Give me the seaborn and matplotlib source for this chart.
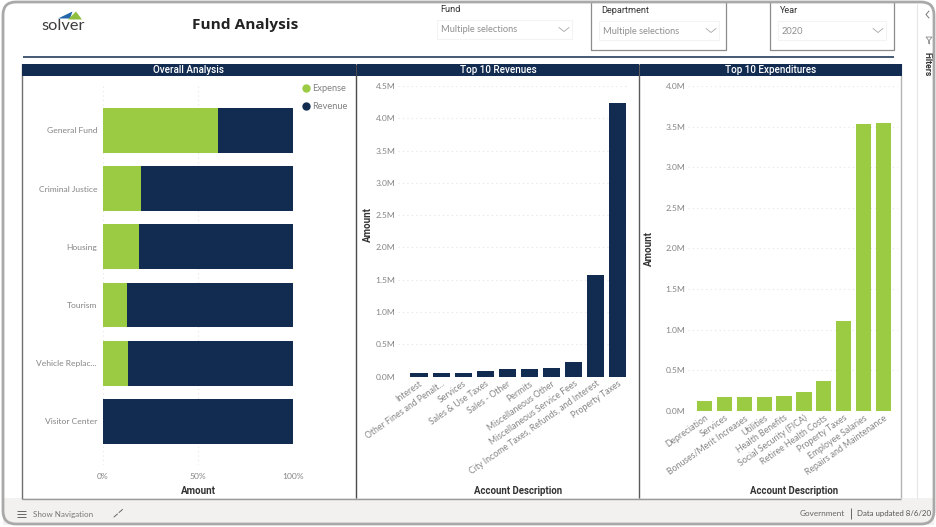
#!/usr/bin/python3

# libraries
import matplotlib
matplotlib.use('Agg')

import matplotlib.pyplot as plt
import seaborn as sns
from matplotlib.lines import Line2D
from matplotlib.patches import FancyBboxPatch, Polygon, Rectangle
from matplotlib.ticker import FuncFormatter

# ------------------------------------------------------------
#     Data
# ------------------------------------------------------------

funds = ["General Fund", "Criminal Justice", "Housing", "Tourism", "Vehicle Replac...", "Visitor Center"]
expense_pct = [60.5, 20, 19, 12.5, 13, 0]
revenue_pct = [39.5, 80, 81, 87.5, 87, 100]

revenue_names = [
    "Interest", "Other Fines and Penalt...", "Services", "Sales & Use Taxes", "Sales - Other",
    "Permits", "Miscellaneous Other", "Miscellaneous Service Fees",
    "City Income Taxes, Refunds, and Interest", "Property Taxes",
]
revenue_amounts = [50000, 50000, 55000, 90000, 110000, 120000, 135000, 220000, 1580000, 4230000]

expense_names = [
    "Depreciation", "Services", "Bonuses/Merit Increases", "Utilities", "Health Benefits",
    "Social Security (FICA)", "Retiree Health Costs", "Property Taxes", "Employee Salaries",
    "Repairs and Maintenance",
]
expense_amounts = [115000, 165000, 165000, 172000, 178000, 225000, 370000, 1100000, 3530000, 3540000]

pct_ticks = [0, 50, 100]
rev_ticks = [i * 500000 for i in range(10)]
exp_ticks = [i * 500000 for i in range(9)]

# ------------------------------------------------------------
#     Settings
# ------------------------------------------------------------

W, H = 937, 527
navy = "#122c51"
green = "#9bcb43"
tick_grey = "#858585"
label_dark = "#333333"
grid_col = "#e4e4e4"

sns.set_style("white")
plt.rcParams['font.family'] = ['Lato', 'DejaVu Sans']

fig = plt.figure(figsize=(W / 100, H / 100), dpi=100, facecolor="white")

# overlay in pixel coordinates for the report chrome
bg = fig.add_axes([0, 0, 1, 1], zorder=0)
bg.set_xlim(0, W)
bg.set_ylim(H, 0)
bg.axis("off")


def px_axes(x0, y0, x1, y1):
    ax = fig.add_axes([x0 / W, 1 - y1 / H, (x1 - x0) / W, (y1 - y0) / H], zorder=2)
    ax.patch.set_alpha(0)
    return ax


def rule(x0, y0, x1, y1, color="#8c8c8c", lw=1.0, z=3):
    bg.plot([x0, x1], [y0, y1], color=color, lw=lw, solid_capstyle="butt", zorder=z)


def chevron(x, y, w=5, h=4, color="#a5a5a5"):
    bg.plot([x - w, x, x + w], [y - h / 2, y + h / 2, y - h / 2], color=color, lw=0.6, zorder=3)


def slicer(label, value, lx, ly, x0, y0, x1, y1):
    bg.text(lx, ly, label, fontsize=6.6, color="#333333", va="center", family="Roboto")
    bg.add_patch(Rectangle((x0, y0), x1 - x0, y1 - y0, fc="white", ec="#f3f3f3", lw=0.7, zorder=2))
    bg.text(x0 + 4, (y0 + y1) / 2 + 0.5, value, fontsize=6.7, color="#8f8f8f", va="center", zorder=3)
    chevron(x1 - 8, (y0 + y1) / 2)


# ------------------------------------------------------------
#     Chrome
# ------------------------------------------------------------

# footer band and outer frame
bg.add_patch(Rectangle((3, 498), 931, 27, fc="#f2f1ef", ec="none", zorder=1))
bg.add_patch(FancyBboxPatch(
    (3, 2), W - 6, H - 5, boxstyle="round,pad=0,rounding_size=13",
    fc="none", ec="#a9a9a9", lw=2.0, zorder=5
))

# logo
bg.add_patch(Polygon([(58, 18.5), (72.5, 11.5), (70, 18.5)], fc="#2467a8", ec="none", zorder=3))
bg.add_patch(Polygon([(76, 11.5), (82, 19.5), (68, 19.5)], fc="#8fbe3f", ec="none", zorder=3))
bg.text(63, 26.5, "solver", fontsize=11.8, color="#3c3c3c", ha="center", va="center")

bg.text(245, 24.5, "Fund Analysis", fontsize=11.1, fontweight="bold", color="#222222",
        ha="center", va="center", family="Open Sans")
rule(23, 56.5, 894, 56.5, color=navy, lw=1.1)

# slicers
slicer("Fund", "Multiple selections", 440, 9.5, 437, 20, 572, 39)
slicer("Department", "Multiple selections", 601, 10.5, 599, 21, 719, 40)
slicer("Year", "2020", 780, 10.5, 778, 21, 886, 40)
for x0, x1 in [(591.5, 726.5), (770, 894)]:
    bg.plot([x0, x0, x1, x1], [2, 50, 50, 2], color="#8c8c8c", lw=0.9, zorder=3)

# filter strip
rule(917.5, 4, 917.5, 498, color="#e6e6e6", lw=0.8)
bg.plot([929, 926, 929], [11, 14.5, 18], color="#777777", lw=0.7, zorder=3)
bg.add_patch(Polygon([(926, 37), (932, 37), (929.6, 40), (929.6, 44), (928.4, 43), (928.4, 40)],
                     fc="white", ec="#888888", lw=0.6, zorder=3))
bg.text(927, 64.5, "Filters", fontsize=6.2, fontweight="semibold", rotation=-90, color="#333333",
        ha="center", va="center", family="Roboto")

# footer content
for y in [510.5, 513.5, 516.5]:
    rule(17, y, 26, y, color="#666666", lw=0.7)
bg.text(33, 514, "Show Navigation", fontsize=5.8, color="#777777", va="center")
bg.plot([114, 117.5], [517, 514], color="#666666", lw=0.7, zorder=3)
bg.plot([119, 122.5], [512.5, 509.5], color="#666666", lw=0.7, zorder=3)
bg.text(800, 513.5, "Government", fontsize=5.85, color="#666666", va="center")
rule(851, 508, 851, 519, color="#666666", lw=0.7)
bg.text(857, 513.5, "Data updated 8/6/20", fontsize=5.7, color="#555555", va="center")

# panels and their title bands
rule(22.5, 64, 22.5, 498.5, color="#6f6f6f", lw=1.0)
rule(22, 498.5, 901.5, 498.5, color="#9a9a9a", lw=1.0)
rule(356.5, 64, 356.5, 498, color="#4a4a4a", lw=1.0)
rule(639.5, 64, 639.5, 498, color="#5a5a5a", lw=1.0)
rule(901.5, 64, 901.5, 498, color="#b5b5b5", lw=1.0)
for x0, x1, title in [
    (22, 356, "Overall Analysis"),
    (357, 639, "Top 10 Revenues"),
    (640, 902, "Top 10 Expenditures"),
]:
    bg.add_patch(Rectangle((x0, 63.5), x1 - x0, 12, fc=navy, ec="none", zorder=3))
    bg.text((x0 + x1) / 2, 70, title, fontsize=7.1, fontweight="medium", color="white",
            ha="center", va="center", family="Roboto", zorder=4)

# ------------------------------------------------------------
#     Plotting
# ------------------------------------------------------------


def style_axes(ax, grid_axis):
    sns.despine(ax=ax, left=True, bottom=True)
    ax.grid(True, axis=grid_axis, linestyle=(0, (1, 3)), color=grid_col, linewidth=0.8)
    ax.set_axisbelow(True)
    ax.tick_params(length=0, labelsize=6.1, labelcolor=tick_grey)


def plot_top10(box, names, amounts, ticks, color, ylim, xlim, ylabel_x, ylabel_y, xlabel_x):
    ax = px_axes(*box)
    sns.barplot(x=names, y=amounts, order=names, color=color, saturation=1, width=0.77, linewidth=0, ax=ax)
    ax.set_xlim(*xlim)
    ax.set_ylim(*ylim)
    ax.set_yticks(ticks)
    ax.yaxis.set_major_formatter(FuncFormatter(lambda v, _: "%.1fM" % (v / 1e6)))
    style_axes(ax, "y")
    ax.tick_params(axis="y", pad=2)
    ax.tick_params(axis="x", pad=2, labelsize=6.3)
    for lab in ax.get_xticklabels():
        lab.set_rotation(35)
        lab.set_ha("right")
        lab.set_rotation_mode("anchor")
    ax.set_xlabel("")
    ax.set_ylabel("")
    bg.text(ylabel_x, ylabel_y, "Amount", fontsize=7.0, fontweight="semibold", color=label_dark,
            rotation=90, ha="center", va="center", family="Roboto")
    bg.text(xlabel_x, 490.5, "Account Description", fontsize=6.9, fontweight="semibold",
            color=label_dark, ha="center", va="center", family="Roboto")
    return ax


# Overall analysis, stacked to 100%
ax = px_axes(103, 85, 293, 465)
totals = [e + r for e, r in zip(expense_pct, revenue_pct)]
sns.barplot(x=totals, y=funds, order=funds, color=navy, saturation=1, width=0.77, linewidth=0, ax=ax, orient="y")
sns.barplot(x=expense_pct, y=funds, order=funds, color=green, saturation=1, width=0.77, linewidth=0, ax=ax, orient="y")
ax.set_xlim(0, 100)
ax.set_ylim(5.75, -0.78)
ax.set_xticks(pct_ticks)
ax.xaxis.set_major_formatter(FuncFormatter(lambda v, _: "%d%%" % v))
style_axes(ax, "x")
ax.tick_params(axis="x", pad=6)
ax.tick_params(axis="y", pad=4.3)
ax.set_xlabel("")
ax.set_ylabel("")
bg.text(198, 490.5, "Amount", fontsize=7.1, fontweight="semibold", color=label_dark,
        ha="center", va="center", family="Roboto")

handles = [
    Line2D([], [], marker="o", linestyle="none", color=c, markersize=5, label=n)
    for c, n in [(green, "Expense"), (navy, "Revenue")]
]
leg = fig.legend(
    handles=handles, loc="upper left", bbox_to_anchor=(297 / W, 1 - 84 / H), frameon=False,
    fontsize=6.7, labelcolor="#808080", handletextpad=-0.35, labelspacing=0.95,
    borderpad=0, borderaxespad=0
)
leg.set_zorder(4)

# Top 10 charts
plot_top10((398, 86, 629, 376.5), revenue_names, revenue_amounts, rev_ticks, navy,
           (0, 4500000), (-0.95, 9.5), 367.5, 225, 518)
plot_top10((688, 86, 898, 410.7), expense_names, expense_amounts, exp_ticks, green,
           (0, 4000000), (-0.85, 9.75), 649, 248, 794)

plt.savefig("out.png", dpi=100)
